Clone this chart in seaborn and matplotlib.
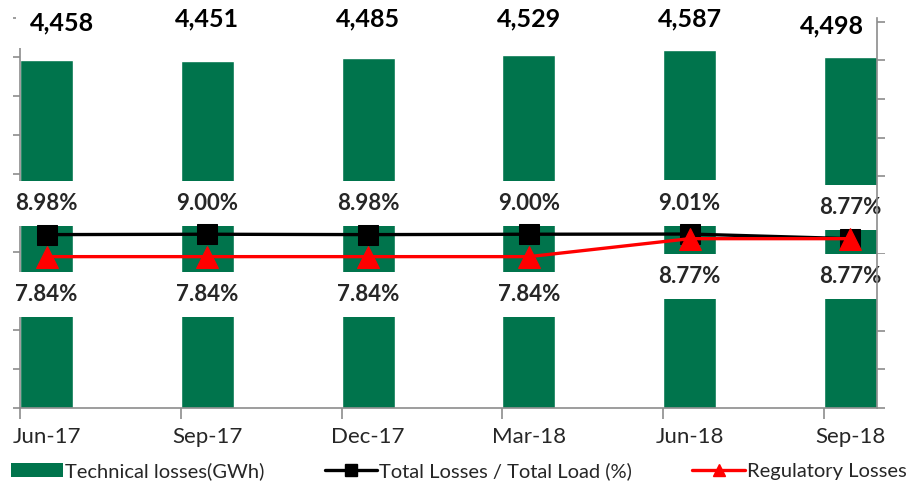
#!/usr/bin/env python3
"""Technical losses (bars) with total / regulatory loss percentages (lines)."""
import numpy as np
import matplotlib.pyplot as plt
from matplotlib.patches import Patch
from matplotlib.lines import Line2D
import seaborn as sns

months = ['Jun-17', 'Sep-17', 'Dec-17', 'Mar-18', 'Jun-18', 'Sep-18']
technical_gwh = [4458, 4451, 4485, 4529, 4587, 4498]
total_loss_pct = [8.98, 9.00, 8.98, 9.00, 9.01, 8.77]
regulatory_pct = [7.84, 7.84, 7.84, 7.84, 8.77, 8.77]

GREEN = '#00744C'
GRAY = '#8C8C8C'
BAR_W = 0.33

sns.set_theme(style='white')
plt.rcParams['font.family'] = ['Lato', 'DejaVu Sans']

fig = plt.figure(figsize=(9.17, 4.99), dpi=100)
ax = fig.add_axes([20 / 917, 91 / 499, 857 / 917, 390 / 499])
ax2 = ax.twinx()

sns.barplot(x=months, y=technical_gwh, color=GREEN, saturation=1, width=BAR_W, ax=ax, zorder=1)

x = np.arange(len(months))
sns.lineplot(x=x, y=total_loss_pct, color='black', lw=2.4, marker='s', markersize=15,
             markeredgecolor='black', ax=ax2, zorder=3, legend=False)
sns.lineplot(x=x, y=regulatory_pct, color='red', lw=2.4, marker='^', markersize=16,
             markeredgecolor='red', ax=ax2, zorder=4, legend=False)

ax.set_xlim(-BAR_W / 2, len(months) - 1 + BAR_W / 2)
ax.set_ylim(0, 5000)
ax.set_yticks(np.arange(0, 5001, 500), labels=[])
ax2.set_ylim(0, 20.2)
ax2.set_yticks(np.arange(0, 21, 2), labels=[])
ax.set_xticks(x - BAR_W / 2, labels=[''] * len(months))
ax.set_xticks(x, labels=months, minor=True)
ax.tick_params(axis='x', which='major', length=8, color=GRAY, width=1.2, direction='out', bottom=True)
ax.tick_params(axis='x', which='minor', length=0, pad=14, labelsize=16)
ax.tick_params(axis='y', length=5, color=GRAY, width=1.2, left=True, direction='out')
ax2.tick_params(axis='y', length=6, color=GRAY, width=1.2, right=True, direction='out')
ax.set_xlabel('')
ax.set_ylabel('')
ax2.set_ylabel('')

for a in (ax, ax2):
    a.spines['top'].set_visible(False)
    for s in ('left', 'right', 'bottom'):
        a.spines[s].set_color(GRAY)
        a.spines[s].set_linewidth(1.2)
ax.spines['right'].set_visible(False)
ax2.spines['left'].set_visible(False)
ax2.spines['bottom'].set_visible(False)

box = dict(boxstyle='square,pad=0.55', fc='white', ec='none')

# bar totals along the top
nudge = {0: (15, -4), len(months) - 1: (-19, -7)}
for i, v in enumerate(technical_gwh):
    dx, dy = nudge.get(i, (0, 0))
    ax2.annotate(f'{v:,}', xy=(i, 1.0), xycoords=ax.get_xaxis_transform(),
                 xytext=(dx, -1 + dy), textcoords='offset pixels', ha='center', va='center',
                 fontsize=18, fontweight='bold', color='black', bbox=box, zorder=2)

# percentage labels: totals above, regulatory below
for i, (t, r) in enumerate(zip(total_loss_pct, regulatory_pct)):
    ax2.annotate(f'{t:.2f}%', xy=(i, t), xytext=(0, 31), textcoords='offset pixels',
                 ha='center', va='center', fontsize=16, fontweight='bold', bbox=box, zorder=2)
    ax2.annotate(f'{r:.2f}%', xy=(i, r), xytext=(0, -38), textcoords='offset pixels',
                 ha='center', va='center', fontsize=16, fontweight='bold', bbox=box, zorder=2)

handles = [
    Patch(facecolor=GREEN, edgecolor='none', label='Technical losses(GWh)'),
    Line2D([], [], color='black', lw=2.4, marker='s', markersize=8, label='Total Losses / Total Load (%)'),
    Line2D([], [], color='red', lw=2.4, marker='^', markersize=9, label='Regulatory Losses'),
]
fig.legend(handles=handles, loc='center', bbox_to_anchor=(0.5, 28 / 499), ncol=3, frameon=False,
           fontsize=14.5, handlelength=2.6, handletextpad=0.1, columnspacing=3.0, borderaxespad=0)

fig.savefig('out.png', dpi=100)
